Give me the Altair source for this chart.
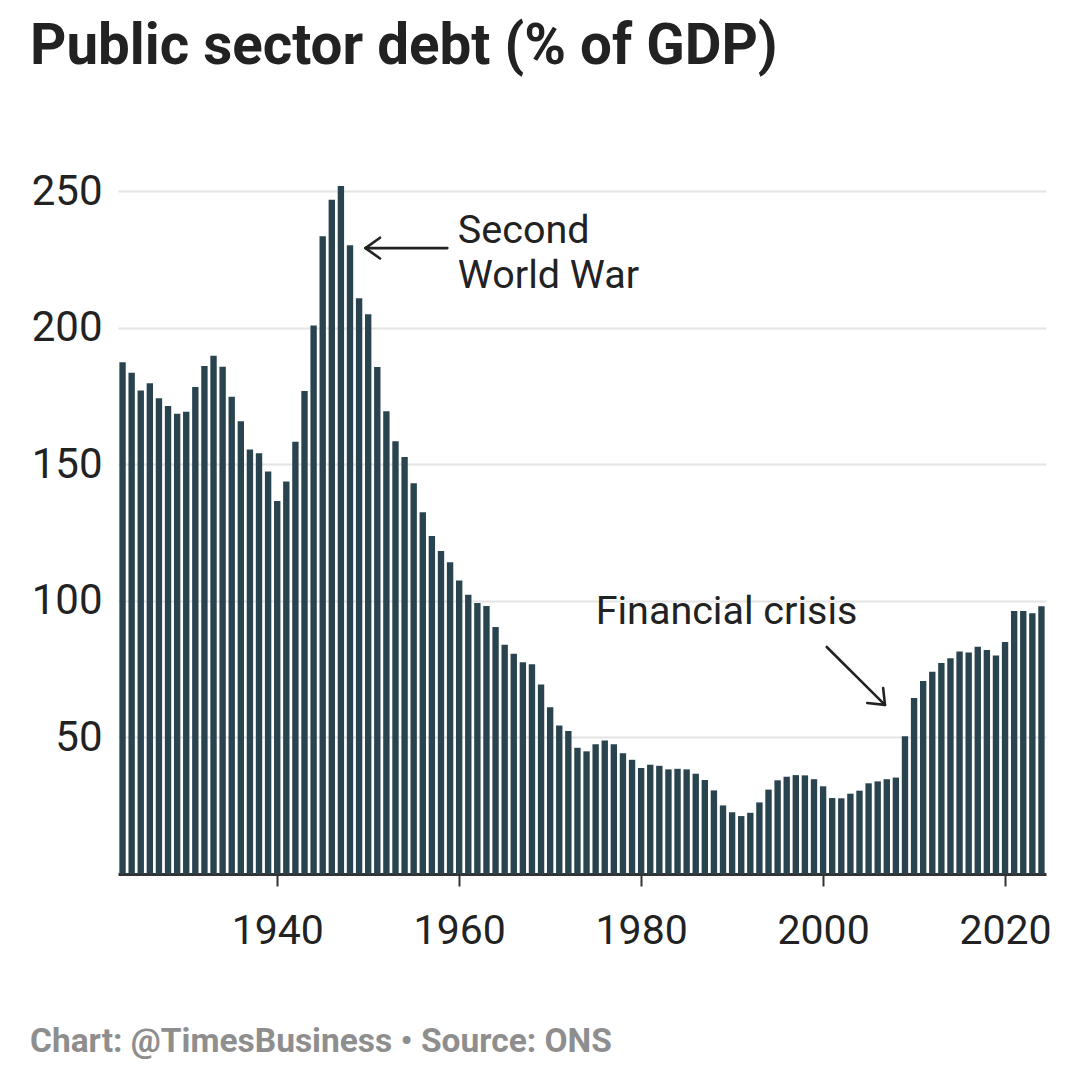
import altair as alt
import pandas as pd

# ---- data ----
years = list(range(1923, 2025))
debt = [
    187.3, 183.5, 177.0, 179.6, 174.1, 171.3, 168.5, 169.2, 178.3, 185.9,  # 1923-1932
    189.7, 185.7, 174.7, 165.7, 155.4, 154.0, 147.3, 136.5, 143.7, 158.2,  # 1933-1942
    176.8, 200.8, 233.4, 246.8, 251.8, 230.1, 210.7, 204.9, 185.6, 169.4,  # 1943-1952
    158.4, 152.6, 143.0, 132.4, 123.7, 118.2, 114.1, 107.4, 102.2, 99.2,   # 1953-1962
    98.1, 90.4, 83.9, 80.6, 77.5, 76.8, 69.4, 61.0, 54.4, 52.3,            # 1963-1972
    46.2, 44.9, 47.5, 48.9, 47.5, 44.2, 41.8, 38.8, 40.0, 39.6,            # 1973-1982
    38.3, 38.5, 38.3, 36.7, 34.4, 30.6, 25.1, 22.6, 21.2, 22.4,            # 1983-1992
    26.2, 30.9, 34.3, 35.6, 36.2, 36.1, 34.7, 32.1, 27.8, 27.7,            # 1993-2002
    29.4, 30.5, 33.2, 33.9, 34.7, 35.3, 50.4, 64.4, 70.6, 74.0,            # 2003-2012
    77.2, 79.0, 81.4, 81.1, 83.2, 82.0, 80.0, 84.9, 96.3, 96.3,            # 2013-2022
    95.4, 98.0,                                                            # 2023-2024
]
x_ticks = [1940, 1960, 1980, 2000, 2020]
y_ticks = [50, 100, 150, 200, 250]

title_text = ["Public sector debt (% of GDP)"]
footer_text = ["Chart: @TimesBusiness \u2022 Source: ONS"]

ann_labels = ["Second", "World War", "Financial crisis"]
ann_x = [1959.85, 1959.85, 1975.0]
ann_y = [231.0, 214.5, 91.5]

# arrows (data coordinates): shaft + two head arms each
arr_x1 = [1958.7, 1949.7, 1949.7, 2000.4, 2006.8, 2006.8]
arr_y1 = [229.1, 229.1, 229.1, 83.1, 61.9, 61.9]
arr_x2 = [1949.7, 1951.3, 1951.3, 2006.8, 2004.85, 2006.6]
arr_y2 = [229.1, 232.9, 225.3, 61.9, 62.6, 68.1]

BAR = "#29444f"
INK = "#222222"
FONT = "Roboto"

df = pd.DataFrame({"year": years, "debt": debt})
ann = pd.DataFrame({"label": ann_labels, "x": ann_x, "y": ann_y})
arr = pd.DataFrame({"x": arr_x1, "y": arr_y1, "x2": arr_x2, "y2": arr_y2})

xs = alt.Scale(domain=[1922.5, 2024.5], nice=False, zero=False)
ys = alt.Scale(domain=[0, 250], nice=False)

bars = alt.Chart(df).transform_calculate(
    x0="datum.year - 0.35", x1="datum.year + 0.35"
).mark_bar(color=BAR).encode(
    x=alt.X("x0:Q", scale=xs, title=None,
            axis=alt.Axis(values=x_ticks, format="d", grid=False,
                          domainColor="#333333", domainWidth=3,
                          tickColor="#333333", tickWidth=2, tickSize=12,
                          labelFontSize=41, labelColor=INK, labelFont=FONT,
                          labelPadding=25, labelFlush=False)),
    x2="x1:Q",
    y=alt.Y("debt:Q", scale=ys, title=None,
            axis=alt.Axis(values=y_ticks, grid=True, gridColor="#e4e4e4",
                          gridWidth=2, domain=False, ticks=False,
                          labelFontSize=42, labelColor=INK, labelFont=FONT,
                          labelPadding=16)),
    y2=alt.datum(0),
)

ann_text = alt.Chart(ann).mark_text(
    align="left", baseline="alphabetic", fontSize=39.5, font=FONT, color=INK
).encode(x=alt.X("x:Q", scale=xs), y=alt.Y("y:Q", scale=ys), text="label:N")

arrows = alt.Chart(arr).mark_rule(color=INK, strokeWidth=2.6, strokeCap="round").encode(
    x=alt.X("x:Q", scale=xs), y=alt.Y("y:Q", scale=ys), x2="x2:Q", y2="y2:Q"
)

title = alt.Chart(pd.DataFrame({"t": title_text})).mark_text(
    align="left", baseline="alphabetic", fontSize=56.5, fontWeight="bold",
    font=FONT, color=INK
).encode(text="t:N", x=alt.value(-88), y=alt.value(-127))

footer = alt.Chart(pd.DataFrame({"t": footer_text})).mark_text(
    align="left", baseline="alphabetic", fontSize=33.5, fontWeight="bold",
    font=FONT, color="#8e8e8e"
).encode(text="t:N", x=alt.value(-88), y=alt.value(861))

chart = alt.layer(bars, ann_text, arrows, title, footer).properties(
    width=928, height=683, autosize="none",
    padding={"left": 110, "top": 183, "right": 16, "bottom": 196},
    background="white",
).configure_view(stroke=None)

chart.save("out.html", embed_options={"renderer": "svg", "actions": False})
